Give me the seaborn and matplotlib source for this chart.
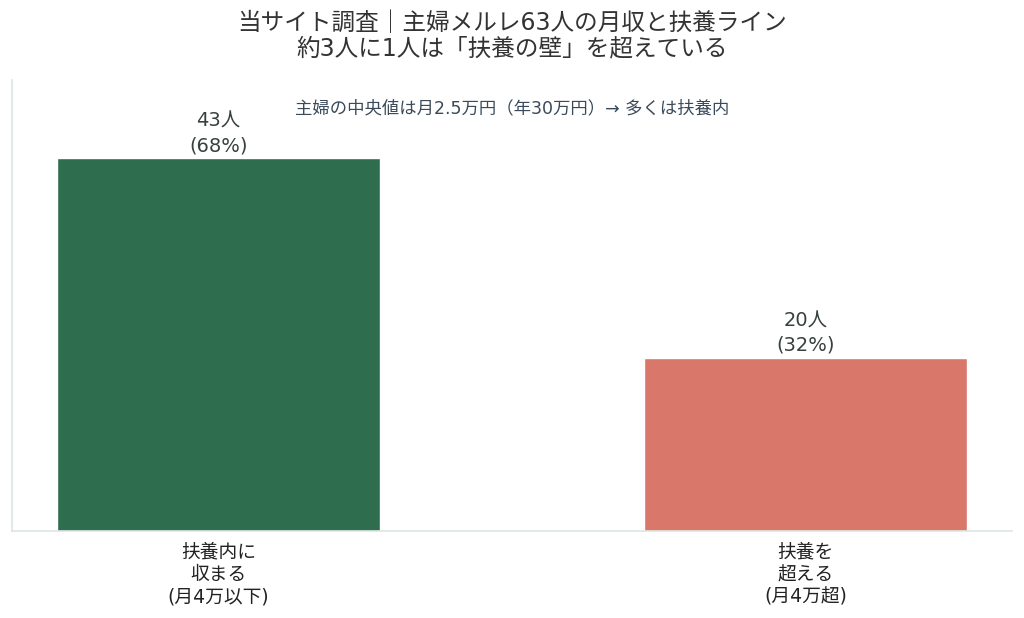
import numpy as np
import pandas as pd
import matplotlib
matplotlib.use("Agg")
import matplotlib.pyplot as plt
import seaborn as sns

categories = ["扶養内に\n収まる\n(月4万以下)", "扶養を\n超える\n(月4万超)"]
counts = [43, 20]
shares = [68, 32]
bar_colors = ["#2e6e4e", "#d9776b"]

title = "当サイト調査｜主婦メルレ63人の月収と扶養ライン\n約3人に1人は「扶養の壁」を超えている"
note = "主婦の中央値は月2.5万円（年30万円）→ 多くは扶養内"

sns.set_style("white")
plt.rcParams['font.family'] = ['DejaVu Sans', 'Noto Sans CJK JP']

df = pd.DataFrame({"group": categories, "count": counts})

fig = plt.figure(figsize=(10.24, 6.18), dpi=100)
ax = fig.add_axes([0.0117, 0.1408, 0.9766, 0.7298])

sns.barplot(data=df, x="group", y="count", hue="group", palette=bar_colors,
            width=0.55, legend=False, saturation=1, ax=ax)

for i, (c, s) in enumerate(zip(counts, shares)):
    ax.annotate(f"{c}人\n({s}%)", (i, c), xytext=(0, 2), textcoords="offset points",
                ha="center", va="bottom", fontsize=14, color="#36403c",
                linespacing=1.36)

ax.set_xlim(-0.352, 1.352)
ax.set_ylim(0, 52)
ax.set_xlabel("")
ax.set_ylabel("")
ax.set_yticks([])
ax.tick_params(axis="x", length=4, pad=4.5, color="#999999", labelsize=13.5,
               labelcolor="#222222")
for lbl in ax.get_xticklabels():
    lbl.set_linespacing(1.24)

for side in ["top", "right"]:
    ax.spines[side].set_visible(False)
for side in ["left", "bottom"]:
    ax.spines[side].set_color("#dde5e1")
    ax.spines[side].set_linewidth(1.2)

ax.text(0.5, 0.938, note, transform=ax.transAxes, ha="center", va="center",
        fontsize=12.5, color="#3a4a5a")
ax.set_title(title, fontsize=17, color="#333333", pad=18, linespacing=1.07)

fig.savefig("out.png", dpi=100)
